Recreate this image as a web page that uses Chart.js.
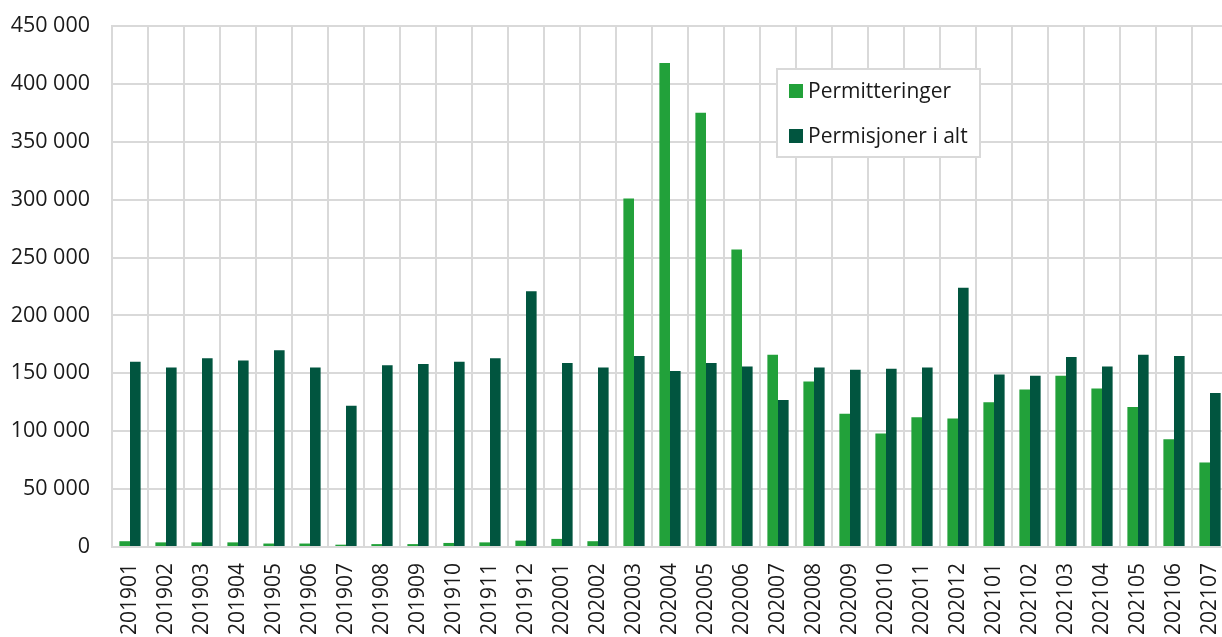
<!DOCTYPE html>
<html>
<head>
<meta charset="utf-8">
<script src="https://cdn.jsdelivr.net/npm/chart.js@4"></script>
<style>
html,body{margin:0;padding:0;background:#fff;overflow:hidden;}
#wrap{width:1228px;height:637px;}
</style>
</head>
<body>
<div id="wrap"><canvas id="c" width="1228" height="637"></canvas></div>
<script>
const categories = ["201901","201902","201903","201904","201905","201906","201907","201908","201909","201910","201911","201912",
  "202001","202002","202003","202004","202005","202006","202007","202008","202009","202010","202011","202012",
  "202101","202102","202103","202104","202105","202106","202107"];
const permitteringer = [5000,4000,4000,4000,3000,3000,2000,2500,2500,3500,4000,5500,
  7000,5000,301000,418000,375000,257000,166000,143000,115000,98000,112000,111000,
  125000,136000,148000,137000,121000,93000,73000];
const permisjoner = [160000,155000,163000,161000,170000,155000,122000,157000,158000,160000,163000,221000,
  159000,155000,165000,152000,159000,156000,127000,155000,153000,154000,155000,224000,
  149000,148000,164000,156000,166000,165000,133000];
const seriesNames = ["Permitteringer","Permisjoner i alt"];
const seriesColors = ["#22a13a","#01553f"];
const yMax = 450000, yStep = 50000;

const fmt = v => String(v).replace(/\B(?=(\d{3})+(?!\d))/g, ' ');
const FONT = "'Open Sans', sans-serif";
const GRID = '#d9d9d9';

const legendPlugin = {
  id: 'boxLegend',
  afterDraw(chart) {
    const ctx = chart.ctx;
    ctx.save();
    const x = 777, y = 69, w = 203, h = 88;
    ctx.fillStyle = '#fff';
    ctx.fillRect(x, y, w, h);
    ctx.strokeStyle = GRID;
    ctx.lineWidth = 2;
    ctx.strokeRect(x, y, w, h);
    ctx.font = "21px " + FONT;
    ctx.textBaseline = 'middle';
    chart.data.datasets.forEach((ds, i) => {
      const cy = 91 + i * 45;
      ctx.fillStyle = ds.backgroundColor;
      ctx.fillRect(789, cy - 7, 14, 14);
      ctx.fillStyle = '#1a1a1a';
      ctx.fillText(ds.label, 808, cy + 1);
    });
    ctx.restore();
  }
};

new Chart(document.getElementById('c'), {
  type: 'bar',
  data: {
    labels: categories,
    datasets: [
      { label: seriesNames[0], data: permitteringer, backgroundColor: seriesColors[0] },
      { label: seriesNames[1], data: permisjoner, backgroundColor: seriesColors[1] }
    ]
  },
  options: {
    responsive: false,
    animation: false,
    layout: { padding: { top: 26, left: 0, right: 0, bottom: 0 } },
    datasets: { bar: { categoryPercentage: 0.59, barPercentage: 1.0 } },
    plugins: { legend: { display: false }, tooltip: { enabled: false } },
    scales: {
      x: {
        grid: { color: GRID, lineWidth: 2, drawTicks: false, offset: true },
        border: { color: GRID, width: 2 },
        ticks: { minRotation: 90, maxRotation: 90, autoSkip: false, padding: 16,
          color: '#1a1a1a', font: { family: FONT, size: 21 } },
        afterFit(s) { s.height = 90; s.paddingLeft = 0; s.paddingRight = 0; }
      },
      y: {
        min: 0, max: yMax,
        grid: { color: GRID, lineWidth: 2, drawTicks: false },
        border: { color: GRID, width: 2 },
        ticks: { stepSize: yStep, padding: 22, color: '#1a1a1a',
          font: { family: FONT, size: 21.5 }, callback: v => fmt(v) },
        afterFit(s) { s.width = 112; s.paddingTop = 0; s.paddingBottom = 0; }
      }
    }
  },
  plugins: [legendPlugin]
});
</script>
</body>
</html>
